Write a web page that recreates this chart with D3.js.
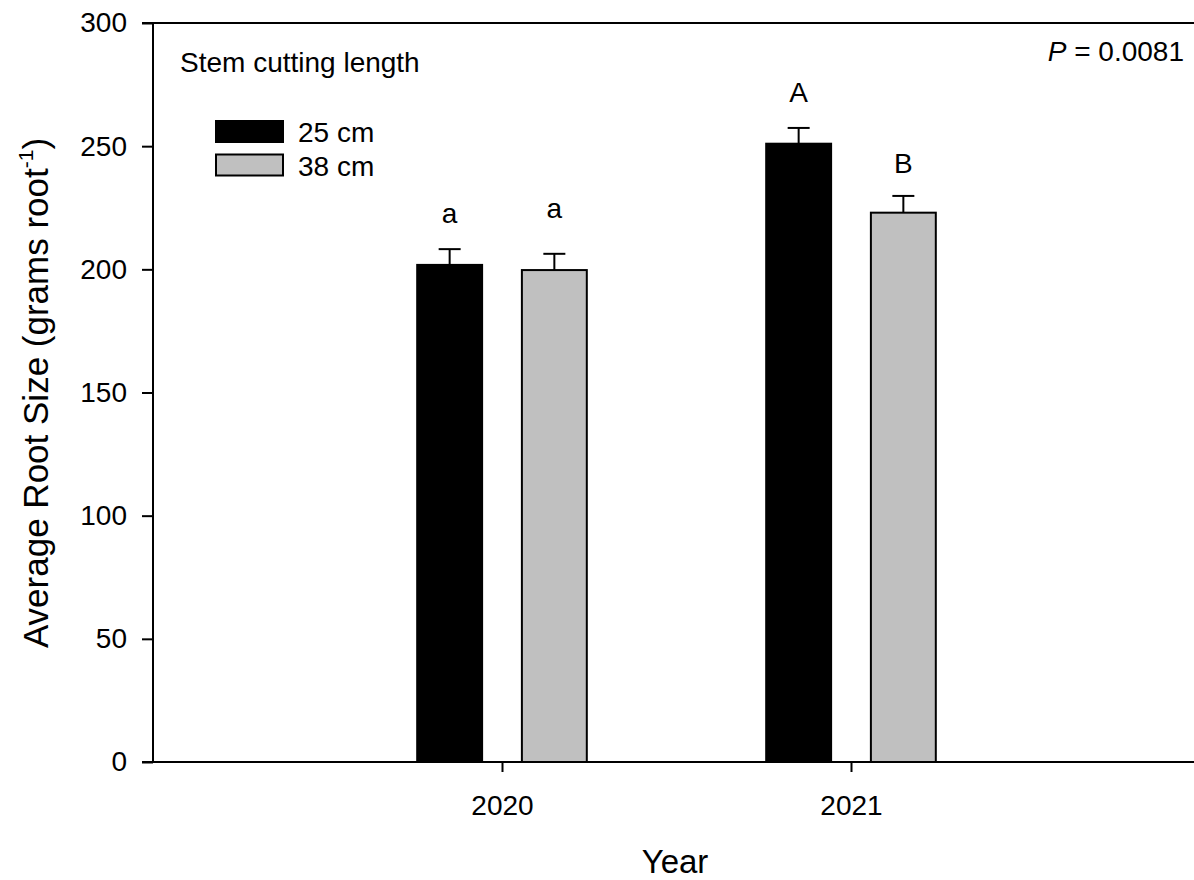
<!DOCTYPE html>
<html>
<head>
<meta charset="utf-8">
<script src="https://cdn.jsdelivr.net/npm/d3@7"></script>
<style>
  html, body { margin: 0; padding: 0; background: #fff; }
  svg { display: block; font-family: "Liberation Sans", Arial, sans-serif; }
</style>
</head>
<body>
<svg id="chart" width="1194" height="880"></svg>
<script>
// Average root size by year and stem cutting length
const years = [2020, 2021];
const seriesNames = ["25 cm", "38 cm"];
const seriesColors = ["#000000", "#c0c0c0"];
const means25 = [201.8, 251.0];
const means38 = [199.7, 223.0];
const se25 = [6.4, 6.4];
const se38 = [6.6, 6.8];
const letters25 = ["a", "A"];
const letters38 = ["a", "B"];
const yTicks = [0, 50, 100, 150, 200, 250, 300];

const svg = d3.select("#chart");
const plotLeft = 153, plotRight = 1200, plotTop = 23, plotBottom = 762;

const x = d3.scaleLinear().domain([2019, 2022]).range([plotLeft, plotRight]);
const y = d3.scaleLinear().domain([0, 300]).range([plotBottom, plotTop]);

const barW = 0.186;      // bar width in year units
const offset = 0.15;     // distance of each bar centre from the year tick

const series = [
  { name: seriesNames[0], color: seriesColors[0], means: means25, se: se25, letters: letters25, dx: -offset },
  { name: seriesNames[1], color: seriesColors[1], means: means38, se: se38, letters: letters38, dx: offset }
];

// letter offsets above the error caps (px), [year][series]
const letterGap = [[26, 36], [26, 23]];

series.forEach((s, si) => {
  const g = svg.append("g");
  years.forEach((yr, i) => {
    const x0 = x(yr + s.dx - barW / 2);
    const x1 = x(yr + s.dx + barW / 2);
    const xc = x(yr + s.dx);
    const capY = y(s.means[i] + s.se[i]);
    // error bar (upper half only)
    g.append("line")
      .attr("x1", xc).attr("x2", xc)
      .attr("y1", y(s.means[i])).attr("y2", capY)
      .attr("stroke", "#000").attr("stroke-width", 2);
    g.append("line")
      .attr("x1", xc - 11).attr("x2", xc + 11)
      .attr("y1", capY).attr("y2", capY)
      .attr("stroke", "#000").attr("stroke-width", 2);
    g.append("rect")
      .attr("x", x0).attr("width", x1 - x0)
      .attr("y", y(s.means[i])).attr("height", y(0) - y(s.means[i]))
      .attr("fill", s.color)
      .attr("stroke", "#000").attr("stroke-width", 2);
    g.append("text")
      .attr("x", xc)
      .attr("y", capY - letterGap[i][si])
      .attr("text-anchor", "middle")
      .attr("font-size", 28)
      .text(s.letters[i]);
  });
});

// axes
const yAxis = d3.axisLeft(y).tickValues(yTicks).tickSize(11).tickPadding(15);
const gy = svg.append("g").attr("transform", `translate(${plotLeft},0)`).call(yAxis);
gy.selectAll("text").attr("font-size", 28).attr("fill", "#000");
gy.selectAll("line").attr("stroke", "#000").attr("stroke-width", 2);
gy.select(".domain").remove();
gy.attr("font-family", null);

const xAxis = d3.axisBottom(x).tickValues(years).tickFormat(d3.format("d")).tickSize(10).tickPadding(23);
const gx = svg.append("g").attr("transform", `translate(0,${plotBottom})`).call(xAxis);
gx.selectAll("text").attr("font-size", 28).attr("fill", "#000");
gx.selectAll("line").attr("stroke", "#000").attr("stroke-width", 2);
gx.select(".domain").remove();
gx.attr("font-family", null);

// frame: left, bottom and top lines
svg.append("line").attr("x1", plotLeft).attr("x2", plotLeft).attr("y1", plotTop).attr("y2", plotBottom)
  .attr("stroke", "#000").attr("stroke-width", 2);
svg.append("line").attr("x1", plotLeft - 11).attr("x2", plotRight).attr("y1", plotBottom).attr("y2", plotBottom)
  .attr("stroke", "#000").attr("stroke-width", 2);
svg.append("line").attr("x1", plotLeft - 11).attr("x2", plotRight).attr("y1", plotTop).attr("y2", plotTop)
  .attr("stroke", "#000").attr("stroke-width", 2);

// axis titles
const yt = svg.append("text")
  .attr("transform", `translate(48,393) rotate(-90)`)
  .attr("text-anchor", "middle")
  .attr("font-size", 35);
yt.append("tspan").text("Average Root Size (grams root");
yt.append("tspan").attr("font-size", 21).attr("dy", -15).text("-1");
yt.append("tspan").attr("dy", 15).text(")");

svg.append("text")
  .attr("x", 675).attr("y", 873)
  .attr("text-anchor", "middle")
  .attr("font-size", 33)
  .text("Year");

// legend
svg.append("text").attr("x", 180).attr("y", 72).attr("font-size", 28).text("Stem cutting length");
const legend = svg.append("g");
series.forEach((s, i) => {
  const ly = 121 + i * 33.5;
  legend.append("rect")
    .attr("x", 216).attr("y", ly).attr("width", 67).attr("height", 21)
    .attr("fill", s.color).attr("stroke", "#000").attr("stroke-width", 2);
  legend.append("text")
    .attr("x", 298).attr("y", ly + 21)
    .attr("font-size", 28)
    .text(s.name);
});

// significance
const pt = svg.append("text").attr("x", 1184).attr("y", 61).attr("text-anchor", "end").attr("font-size", 28);
pt.append("tspan").attr("font-style", "italic").text("P");
pt.append("tspan").text(" = 0.0081");
</script>
</body>
</html>
